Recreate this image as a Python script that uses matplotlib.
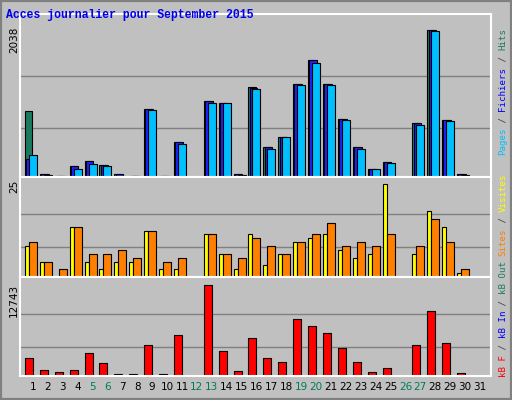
import matplotlib
matplotlib.use("Agg")
import matplotlib.pyplot as plt
import numpy as np

days = list(range(1, 32))
day_labels = [str(d) for d in days]
weekend = [5, 6, 12, 13, 19, 20, 26, 27]
hits  = [908,46,20,148,217,171,37,20,936,20,480,0,1047,1019,37,1240,410,549,1282,1614,1282,798,410,106,203,0,742,2038,784,37,0]
files = [254,46,15,148,217,171,37,15,936,15,480,0,1047,1019,37,1230,410,549,1282,1614,1282,798,410,106,203,0,742,2038,784,37,0]
pages = [309,23,10,115,175,157,20,10,922,10,452,0,1019,1019,23,1213,392,549,1268,1572,1268,784,383,106,189,0,715,2024,770,23,0]
visits = [8,4,0,13,4,2,4,4,12,2,2,0,11,6,2,11,3,6,9,10,11,7,5,6,24,0,6,17,13,1,0]
sites  = [9,4,2,13,6,6,7,5,12,4,5,0,11,6,5,10,8,6,9,11,14,8,9,8,11,0,8,15,9,2,0]
kb = [2558,790,512,790,3256,1860,230,230,4372,230,5767,0,12743,3535,651,5348,2558,2000,8000,7022,6046,3953,2000,605,1163,0,4372,9115,4650,465,0]
max_hits, max_visits, max_kb = 2038, 25, 12743

C_H, C_F, C_P = '#1a7a60', '#2020ff', '#00bfff'
C_V, C_S, C_K = '#ffff00', '#ff8000', '#ff0000'
BG = '#c0c0c0'
W, H = 512, 400
fig = plt.figure(figsize=(5.12, 4.0), dpi=100, facecolor=BG)
fig.patches.append(plt.Rectangle((0, 0), 1, 1, transform=fig.transFigure, fill=False, ec='#808080', lw=3))

def ax_at(top, bot):
    return fig.add_axes([20/W, 1-bot/H, 471/W, (bot-top)/H], facecolor=BG)

x = np.array(days)
xl = (0.13, 31.74)
a1 = ax_at(14, 177)
a1.bar(x-0.54, hits, 0.5, align='edge', color=C_H, ec='black', lw=0.8)
a1.bar(x-0.45, files, 0.5, align='edge', color=C_F, ec='black', lw=0.8)
a1.bar(x-0.27, pages, 0.54, align='edge', color=C_P, ec='black', lw=0.8)
a1.set_ylim(0, max_hits*163/147.4)
for g in [683, 1392]: a1.axhline(g, color='#808080', lw=1, zorder=0)

a2 = ax_at(177, 277)
a2.bar(x-0.54, visits, 0.27, align='edge', color=C_V, ec='black', lw=0.8)
a2.bar(x-0.27, sites, 0.54, align='edge', color=C_S, ec='black', lw=0.8)
a2.set_ylim(0, max_visits*100/96.7)
for g in [7.76, 16.4]: a2.axhline(g, color='#808080', lw=1, zorder=0)

a3 = ax_at(277, 376)
a3.bar(x-0.54, kb, 0.54, align='edge', color=C_K, ec='black', lw=0.8)
a3.set_ylim(0, max_kb*99/91.4)
for g in [4093, 8697]: a3.axhline(g, color='#808080', lw=1, zorder=0)

for a in (a1, a2, a3):
    a.set_xlim(*xl)
    a.set_yticks([]); a.set_xticks([])
    for s in a.spines.values():
        s.set_color('white'); s.set_linewidth(1.5)
a3.set_xticks(days)
a3.set_xticklabels(day_labels, fontsize=7.5)
a3.tick_params(length=0, pad=4)
for lab, d in zip(a3.get_xticklabels(), days):
    if d in weekend: lab.set_color('#007a5a')

fig.text(6/W, 1-15/H, 'Acces journalier pour September 2015', color='#0000ee',
         family='Liberation Mono', weight='bold', fontsize=8.3, va='center')
for txt, ytop in [('2038', 27), ('25', 180), ('12743', 284)]:
    fig.text(14/W, 1-ytop/H, txt, rotation=90, ha='center', va='top', fontsize=7.5)

def stack(parts, ystart):
    y = ystart
    for t, c in parts:
        fig.text(503/W, y/H, t, rotation=90, ha='center', va='bottom',
                 family='DejaVu Sans Mono', fontsize=6.6, color=c)
        y += 5.5*len(t)
G = '#404040'
stack([('Pages', C_P), (' / ', G), ('Fichiers', '#0000ff'), (' / ', G), ('Hits', C_H)], 245)
stack([('kB F', C_K), (' / ', G), ('kB In', '#0000ff'), (' / ', G), ('kB Out', C_H), (' ', G),
       ('Sites', C_S), (' / ', G), ('Visites', C_V)], 23)
fig.savefig('out.png', dpi=100, facecolor=BG)
